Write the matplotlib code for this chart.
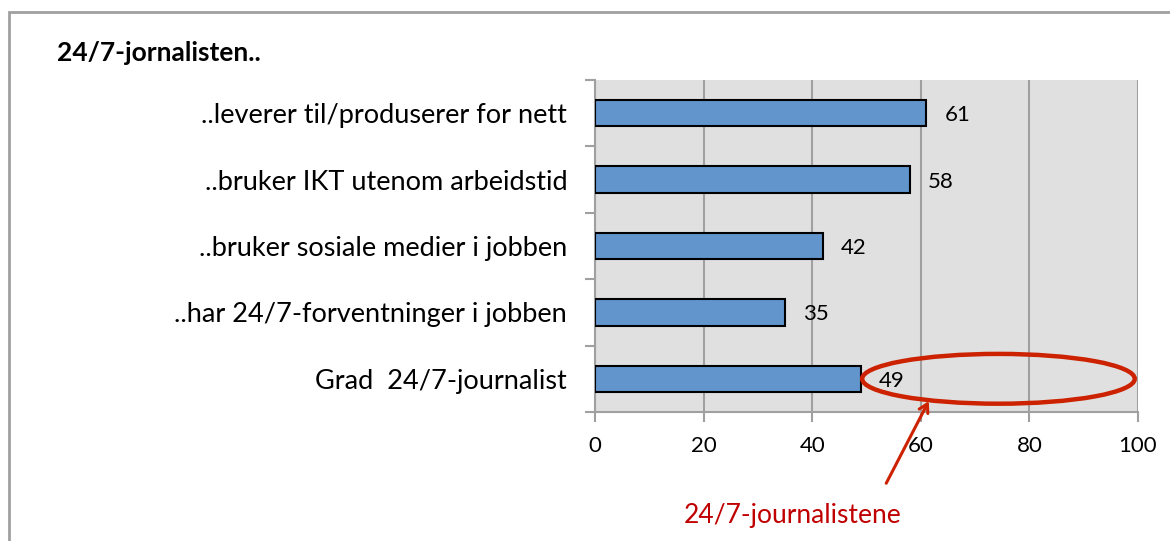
import matplotlib
matplotlib.use("Agg")
import matplotlib.pyplot as plt
from matplotlib.patches import Ellipse, Rectangle

categories = ["..leverer til/produserer for nett",
              "..bruker IKT utenom arbeidstid",
              "..bruker sosiale medier i jobben",
              "..har 24/7-forventninger i jobben",
              "Grad  24/7-journalist"]
values = [61, 58, 42, 35, 49]
xticks = [0, 20, 40, 60, 80, 100]
title = "24/7-jornalisten.."
annotation_text = "24/7-journalistene"

plt.rcParams['font.family'] = ['Lato', 'DejaVu Sans']

W, H = 1170, 541
fig = plt.figure(figsize=(W / 100, H / 100), dpi=100)
ax = fig.add_axes([595 / W, 1 - 412 / H, (1138 - 595) / W, (412 - 80) / H])

n = len(categories)
ypos = list(range(n - 1, -1, -1))
ax.set_facecolor('#E0E0E0')
ax.barh(ypos, values, height=0.4, color='#6195CB', edgecolor='black',
        linewidth=1.5, zorder=3)
for y, v in zip(ypos, values):
    ax.annotate(str(v), xy=(v, y), xytext=(13, 0), textcoords='offset points',
                va='center_baseline', ha='left', fontsize=16, color='black',
                zorder=5)

ax.set_xlim(0, 100)
ax.set_ylim(-0.5, n - 0.5)
ax.set_xticks(xticks)
ax.set_xticklabels([str(t) for t in xticks], fontsize=16)
ax.set_yticks(ypos)
ax.set_yticklabels(categories, fontsize=19.5, va='center_baseline')
ax.set_yticks([i - 0.5 for i in range(n + 1)], minor=True)
ax.tick_params(axis='y', which='major', length=0, pad=20)
ax.tick_params(axis='y', which='minor', length=7, color='#A0A0A0', width=1.5)
ax.tick_params(axis='x', length=7, color='#A0A0A0', width=1.5, pad=10)
ax.xaxis.grid(True, color='#A0A0A0', linewidth=1.5, zorder=0)
ax.set_axisbelow(True)
for s in ['top', 'right']:
    ax.spines[s].set_visible(False)
for s in ['left', 'bottom']:
    ax.spines[s].set_color('#A0A0A0')
    ax.spines[s].set_linewidth(1.5)

# annotation ellipse and arrow
ell = Ellipse((74.3, 0), width=50.2, height=0.75, fill=False,
              edgecolor='#CC2200', linewidth=3.2, zorder=6, clip_on=False)
ax.add_patch(ell)
ax.annotate('', xy=(61.7, -0.30), xytext=(53.4, -1.61),
            arrowprops=dict(arrowstyle='->,head_length=0.6,head_width=0.35',
                            color='#CC2200', lw=2.2),
            annotation_clip=False, zorder=6)
fig.text(793 / W, 1 - 515 / H, annotation_text, color='#C00000',
         fontsize=19, ha='center', va='center')

fig.text(57 / W, 1 - 53 / H, title, fontsize=19, fontweight='bold',
         ha='left', va='center')

# outer chart border
fig.patches.append(Rectangle((9 / W, -0.1), 1.2, 1 - 12 / H + 0.1,
                             transform=fig.transFigure, fill=False,
                             edgecolor='#A0A0A0', linewidth=2))

fig.savefig('out.png', dpi=100)
